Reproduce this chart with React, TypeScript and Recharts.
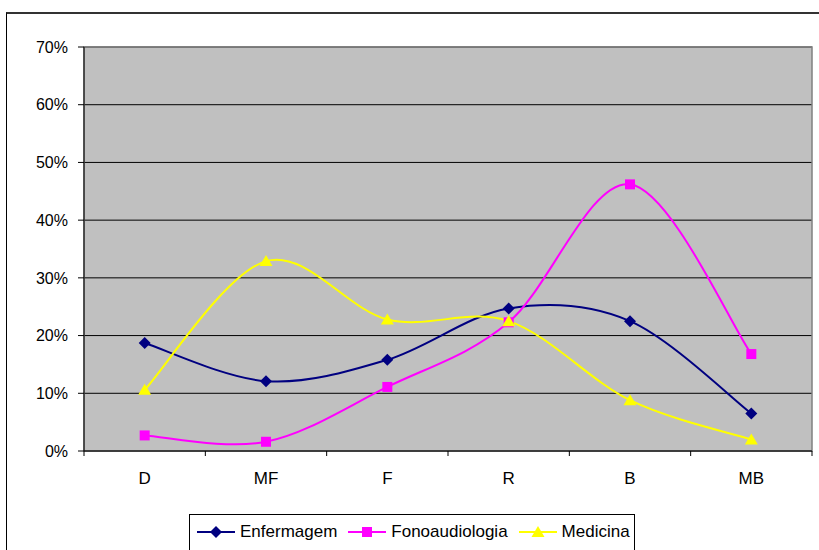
import React from 'react';
import { LineChart, Line, XAxis, YAxis, CartesianGrid, ReferenceArea } from 'recharts';

const categories = ['D', 'MF', 'F', 'R', 'B', 'MB'];
const enfermagem = [18.7, 12.1, 15.8, 24.7, 22.5, 6.5];
const fonoaudiologia = [2.7, 1.6, 11.1, 22.3, 46.2, 16.8];
const medicina = [10.6, 32.9, 22.8, 22.5, 8.8, 2.0];
const yTicks = [0, 10, 20, 30, 40, 50, 60, 70];

const SERIES = [
  { key: 'enfermagem', name: 'Enfermagem', color: '#000080', shape: 'diamond' },
  { key: 'fonoaudiologia', name: 'Fonoaudiologia', color: '#FF00FF', shape: 'square' },
  { key: 'medicina', name: 'Medicina', color: '#FFFF00', shape: 'triangle' },
];

const data = categories.map((name, i) => ({
  name,
  pos: i + 0.5,
  enfermagem: enfermagem[i],
  fonoaudiologia: fonoaudiologia[i],
  medicina: medicina[i],
}));

// boundary ticks (tick marks) and centre ticks (labels)
const xTicks: number[] = [];
categories.forEach((_, i) => {
  xTicks.push(i, i + 0.5);
});
xTicks.push(categories.length);

const FONT = '"Liberation Sans", Arial, sans-serif';

// Excel-like smoothing (Catmull-Rom through the points)
function excelSmooth(context: any) {
  let pts: number[][] = [];
  return {
    areaStart() {},
    areaEnd() {},
    lineStart() {
      pts = [];
    },
    point(x: number, y: number) {
      pts.push([+x, +y]);
    },
    lineEnd() {
      if (!pts.length) return;
      context.moveTo(pts[0][0], pts[0][1]);
      for (let i = 0; i < pts.length - 1; i++) {
        const p0 = pts[i - 1] || pts[i];
        const p1 = pts[i];
        const p2 = pts[i + 1];
        const p3 = pts[i + 2] || p2;
        context.bezierCurveTo(
          p1[0] + (p2[0] - p0[0]) / 6,
          p1[1] + (p2[1] - p0[1]) / 6,
          p2[0] - (p3[0] - p1[0]) / 6,
          p2[1] - (p3[1] - p1[1]) / 6,
          p2[0],
          p2[1]
        );
      }
    },
  };
}

function Marker({ shape, color, cx, cy }: { shape: string; color: string; cx: number; cy: number }) {
  if (shape === 'diamond') {
    return <polygon points={`${cx},${cy - 6} ${cx + 6},${cy} ${cx},${cy + 6} ${cx - 6},${cy}`} fill={color} />;
  }
  if (shape === 'square') {
    return <rect x={cx - 5} y={cy - 5} width={10} height={10} fill={color} />;
  }
  return <polygon points={`${cx},${cy - 6} ${cx + 6.5},${cy + 5} ${cx - 6.5},${cy + 5}`} fill={color} />;
}

function XTick(props: any) {
  const { x, y, payload } = props;
  const v = payload.value;
  if (Number.isInteger(v)) {
    return <line x1={x} x2={x} y1={y - 6} y2={y - 1} stroke="#000" />;
  }
  return (
    <text x={x} y={y + 27} textAnchor="middle" fontSize={17} fontFamily={FONT} fill="#000">
      {categories[Math.floor(v)]}
    </text>
  );
}

function LegendBox() {
  return (
    <div
      style={{
        position: 'absolute',
        left: 189,
        top: 514,
        width: 446,
        height: 60,
        border: '1px solid #000',
        background: '#fff',
        display: 'flex',
        alignItems: 'flex-start',
        paddingLeft: 7,
        paddingTop: 7,
        boxSizing: 'border-box',
        gap: 11,
        fontFamily: FONT,
        fontSize: 17,
      }}
    >
      {SERIES.map((s) => (
        <div key={s.key} style={{ display: 'flex', alignItems: 'center', gap: 5 }}>
          <svg width={38} height={16}>
            <line x1={0} x2={38} y1={8} y2={8} stroke={s.color} strokeWidth={2} />
            <Marker shape={s.shape} color={s.color} cx={19} cy={8} />
          </svg>
          <span style={{ lineHeight: '20px' }}>{s.name}</span>
        </div>
      ))}
    </div>
  );
}

export default function App() {
  return (
    <div style={{ position: 'absolute', left: 0, top: 0, width: 819, height: 550, overflow: 'hidden', background: '#fff' }}>
      <div
        style={{
          position: 'absolute',
          left: 6,
          top: 12,
          width: 900,
          height: 700,
          borderTop: '2px solid #333',
          borderLeft: '1px solid #000',
        }}
      />
      <div style={{ position: 'absolute', left: 0, top: 0 }}>
        <LineChart width={819} height={550} data={data} margin={{ top: 47, right: 7, left: 8, bottom: 59 }}>
          <CartesianGrid vertical={false} stroke="#000" fill="#C0C0C0" />
          <ReferenceArea x1={0} x2={6} y1={0} y2={70} stroke="#808080" strokeWidth={1.5} fill="none" fillOpacity={0} />
          <XAxis
            dataKey="pos"
            type="number"
            domain={[0, categories.length]}
            ticks={xTicks}
            interval={0}
            tickLine={false}
            tickSize={6}
            tickMargin={0}
            height={40}
            axisLine={{ stroke: '#000' }}
            tick={<XTick />}
          />
          <YAxis
            domain={[0, 70]}
            ticks={yTicks}
            interval={0}
            width={76}
            tickSize={6}
            tickMargin={10}
            tickFormatter={(v: number) => `${v}%`}
            axisLine={{ stroke: '#000' }}
            tickLine={{ stroke: '#000' }}
            tick={{ fill: '#000', fontSize: 16, fontFamily: FONT }}
          />
          {SERIES.map((s) => (
            <Line
              key={s.key}
              dataKey={s.key}
              name={s.name}
              type={excelSmooth as any}
              stroke={s.color}
              strokeWidth={2}
              isAnimationActive={false}
              dot={(p: any) => <Marker key={`${s.key}-${p.index}`} shape={s.shape} color={s.color} cx={p.cx} cy={p.cy} />}
              activeDot={false}
            />
          ))}
        </LineChart>
      </div>
      <LegendBox />
    </div>
  );
}
